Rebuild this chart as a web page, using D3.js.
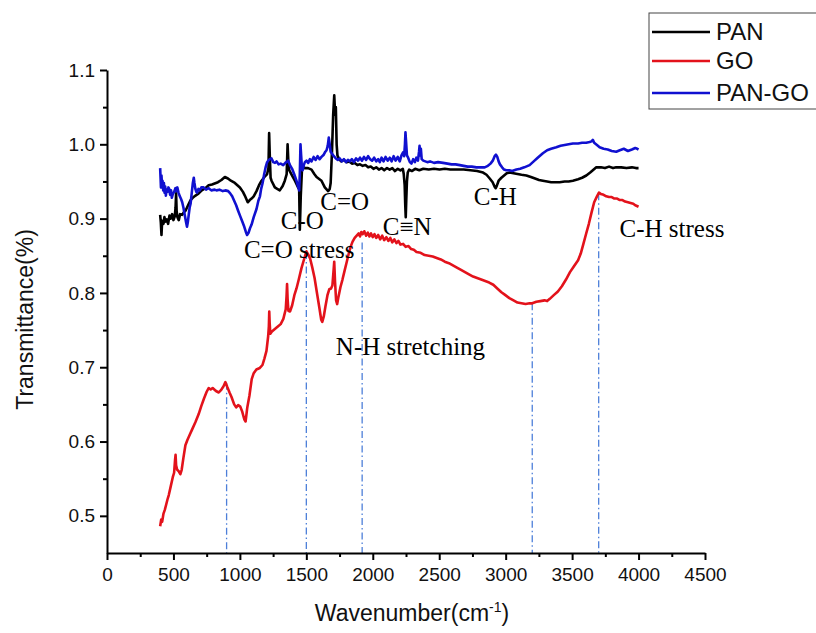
<!DOCTYPE html>
<meta charset="utf-8">
<svg width="816" height="633"></svg>
<script src="https://d3js.org/d3.v7.min.js"></script>

<style>
    body { margin: 0; background: #fff; }
    svg { display: block; background: #fff; }

    .axis path, .axis line {
        stroke: #000;
        stroke-width: 2px;
    }
    .axis text {
        font-family: "Liberation Sans", Arial, sans-serif;
        font-size: 19px;
        fill: #111;
    }
    .curve {
        fill: none;
        stroke-width: 2.6px;
        stroke-linejoin: round;
    }
    .marker {
        stroke: #4d7fd9;
        stroke-width: 1.3px;
        stroke-dasharray: 7,3,1.5,3;
    }
    .note {
        font-family: "Liberation Serif", "Times New Roman", serif;
        font-size: 25px;
        fill: #000;
    }
    .title {
        font-family: "Liberation Sans", Arial, sans-serif;
        font-size: 23px;
        fill: #111;
    }
</style>

<script>

    // ---- data (wavenumber cm-1, transmittance) ----
    var pan = [
        [400,0.905],[405,0.895],[410,0.878],[415,0.897],[425,0.893],[432,0.902],[440,0.896],[450,0.899],
        [460,0.893],[470,0.904],[480,0.900],[490,0.906],[500,0.898],[510,0.903],[516,0.915],[520,0.934],
        [524,0.910],[530,0.902],[540,0.898],[550,0.906],[565,0.905],[580,0.909],[592,0.911],[610,0.918],
        [629,0.925],[645,0.928],[666,0.931],[690,0.934],[713,0.938],[740,0.941],[765,0.945],[790,0.946],
        [835,0.949],[861,0.952],[887,0.956],[910,0.954],[932,0.951],[962,0.948],[1000,0.942],[1023,0.936],
        [1037,0.931],[1059,0.922],[1074,0.925],[1088,0.927],[1104,0.930],[1125,0.937],[1144,0.945],
        [1163,0.951],[1185,0.956],[1205,0.960],[1215,0.968],[1220,1.015],[1225,0.985],[1231,0.955],
        [1238,0.951],[1263,0.942],[1281,0.940],[1300,0.938],[1322,0.944],[1338,0.951],[1352,0.960],
        [1359,1.000],[1365,0.975],[1372,0.965],[1393,0.958],[1414,0.951],[1438,0.942],[1446,0.940],
        [1451,0.885],[1458,0.930],[1467,0.965],[1474,0.970],[1489,0.968],[1513,0.968],[1539,0.966],
        [1560,0.960],[1577,0.956],[1614,0.951],[1639,0.942],[1664,0.937],[1676,0.940],[1683,0.948],
        [1693,0.990],[1702,1.040],[1710,1.066],[1717,1.040],[1722,1.050],[1728,1.000],[1734,0.985],
        [1747,0.980],[1762,0.977],[1783,0.979],[1803,0.976],[1823,0.977],[1843,0.974],[1864,0.975],
        [1884,0.972],[1904,0.973],[1924,0.971],[1945,0.972],[1965,0.969],[1985,0.970],[2005,0.967],
        [2026,0.969],[2046,0.966],[2066,0.968],[2086,0.965],[2107,0.968],[2127,0.966],[2147,0.968],
        [2167,0.964],[2188,0.967],[2208,0.965],[2226,0.967],[2233,0.960],[2240,0.945],[2244,0.920],
        [2248,0.902],[2252,0.925],[2257,0.950],[2263,0.962],[2274,0.966],[2294,0.964],[2319,0.967],
        [2350,0.965],[2380,0.967],[2421,0.966],[2461,0.967],[2502,0.966],[2542,0.967],[2583,0.966],
        [2633,0.966],[2684,0.966],[2735,0.965],[2785,0.964],[2830,0.962],[2856,0.959],[2880,0.954],
        [2902,0.949],[2917,0.943],[2925,0.941],[2933,0.944],[2947,0.951],[2968,0.955],[2988,0.958],
        [3008,0.961],[3030,0.962],[3059,0.961],[3089,0.960],[3119,0.959],[3156,0.958],[3190,0.956],
        [3221,0.954],[3251,0.952],[3280,0.951],[3312,0.950],[3342,0.949],[3373,0.949],[3406,0.949],
        [3444,0.950],[3474,0.950],[3506,0.951],[3545,0.953],[3575,0.955],[3607,0.958],[3636,0.962],
        [3656,0.965],[3682,0.969],[3717,0.969],[3747,0.968],[3778,0.970],[3808,0.968],[3832,0.969],
        [3869,0.969],[3909,0.968],[3950,0.969],[3980,0.968],[4000,0.968]
    ];

    var go = [
        [400,0.486],[408,0.495],[415,0.492],[425,0.503],[435,0.508],[445,0.515],[455,0.522],[465,0.528],
        [480,0.540],[495,0.552],[505,0.558],[512,0.575],[516,0.582],[520,0.568],[528,0.562],[540,0.560],
        [552,0.556],[562,0.562],[575,0.578],[590,0.595],[605,0.602],[620,0.608],[640,0.616],[665,0.626],
        [690,0.637],[710,0.648],[730,0.658],[750,0.667],[765,0.672],[780,0.670],[795,0.672],[820,0.668],
        [841,0.666],[861,0.670],[876,0.674],[891,0.680],[906,0.673],[922,0.666],[937,0.660],[957,0.650],
        [972,0.646],[987,0.649],[1003,0.647],[1018,0.640],[1033,0.630],[1043,0.627],[1055,0.645],
        [1072,0.662],[1089,0.684],[1104,0.692],[1124,0.697],[1150,0.699],[1170,0.703],[1185,0.712],
        [1200,0.722],[1213,0.742],[1218,0.755],[1221,0.775],[1224,0.760],[1229,0.745],[1241,0.748],
        [1261,0.751],[1281,0.754],[1307,0.758],[1327,0.765],[1345,0.778],[1351,0.795],[1355,0.812],
        [1359,0.792],[1365,0.776],[1377,0.775],[1393,0.783],[1410,0.797],[1426,0.806],[1443,0.818],
        [1463,0.833],[1484,0.846],[1501,0.856],[1514,0.852],[1529,0.846],[1545,0.834],[1562,0.820],
        [1580,0.800],[1598,0.780],[1612,0.764],[1620,0.761],[1631,0.768],[1644,0.782],[1659,0.797],
        [1673,0.805],[1686,0.806],[1696,0.810],[1704,0.828],[1710,0.842],[1716,0.815],[1724,0.790],
        [1732,0.785],[1742,0.795],[1757,0.808],[1772,0.818],[1788,0.830],[1803,0.841],[1818,0.852],
        [1833,0.862],[1848,0.869],[1864,0.874],[1879,0.877],[1894,0.880],[1904,0.876],[1914,0.882],
        [1924,0.879],[1936,0.883],[1950,0.877],[1963,0.881],[1975,0.876],[1987,0.880],[2000,0.875],
        [2013,0.879],[2026,0.874],[2041,0.878],[2056,0.872],[2071,0.877],[2086,0.871],[2102,0.875],
        [2117,0.870],[2132,0.874],[2147,0.868],[2162,0.872],[2178,0.867],[2193,0.870],[2208,0.865],
        [2228,0.866],[2248,0.862],[2269,0.863],[2289,0.859],[2309,0.858],[2329,0.855],[2360,0.854],
        [2390,0.851],[2421,0.850],[2451,0.849],[2481,0.847],[2512,0.845],[2542,0.842],[2573,0.840],
        [2603,0.837],[2633,0.834],[2664,0.831],[2694,0.828],[2724,0.825],[2755,0.822],[2785,0.820],
        [2816,0.818],[2846,0.816],[2876,0.814],[2907,0.811],[2937,0.806],[2968,0.801],[2998,0.797],
        [3028,0.793],[3059,0.790],[3089,0.787],[3119,0.786],[3150,0.785],[3180,0.786],[3200,0.786],
        [3231,0.788],[3261,0.789],[3292,0.790],[3312,0.789],[3332,0.792],[3362,0.797],[3393,0.802],
        [3423,0.809],[3454,0.818],[3484,0.828],[3514,0.836],[3545,0.844],[3565,0.853],[3585,0.866],
        [3606,0.880],[3626,0.893],[3646,0.908],[3666,0.922],[3687,0.930],[3702,0.935],[3717,0.933],
        [3737,0.932],[3757,0.930],[3778,0.929],[3798,0.929],[3818,0.927],[3839,0.927],[3859,0.925],
        [3879,0.925],[3899,0.923],[3920,0.922],[3940,0.921],[3960,0.920],[3975,0.918],[3988,0.917],
        [4000,0.916]
    ];

    var panGo = [
        [400,0.968],[403,0.955],[406,0.942],[410,0.958],[414,0.945],[418,0.951],[423,0.938],[428,0.948],
        [433,0.935],[438,0.943],[443,0.931],[448,0.939],[455,0.936],[462,0.942],[468,0.940],[475,0.932],
        [482,0.938],[488,0.928],[495,0.933],[505,0.936],[515,0.941],[522,0.937],[529,0.942],[538,0.935],
        [548,0.930],[558,0.926],[566,0.922],[575,0.915],[585,0.905],[595,0.895],[602,0.889],[608,0.895],
        [615,0.905],[622,0.915],[629,0.920],[638,0.935],[646,0.948],[653,0.955],[658,0.948],[665,0.940],
        [672,0.936],[678,0.935],[688,0.940],[698,0.938],[710,0.942],[727,0.942],[745,0.939],[765,0.941],
        [785,0.938],[810,0.939],[824,0.938],[846,0.939],[871,0.937],[891,0.938],[912,0.937],[927,0.934],
        [942,0.930],[957,0.924],[972,0.918],[986,0.911],[1003,0.903],[1018,0.896],[1033,0.889],
        [1045,0.882],[1054,0.878],[1065,0.881],[1076,0.887],[1088,0.892],[1104,0.902],[1125,0.913],
        [1139,0.924],[1151,0.930],[1160,0.940],[1171,0.948],[1183,0.960],[1195,0.970],[1205,0.976],
        [1213,0.978],[1225,0.980],[1238,0.981],[1251,0.976],[1264,0.975],[1276,0.977],[1291,0.973],
        [1307,0.974],[1326,0.972],[1342,0.975],[1363,0.978],[1377,0.972],[1393,0.967],[1408,0.960],
        [1426,0.951],[1438,0.943],[1446,0.938],[1451,0.960],[1456,1.000],[1461,0.985],[1467,0.968],
        [1472,0.965],[1481,0.972],[1489,0.976],[1501,0.978],[1514,0.975],[1527,0.980],[1539,0.977],
        [1555,0.983],[1570,0.979],[1585,0.984],[1600,0.980],[1614,0.983],[1631,0.986],[1643,0.990],
        [1652,0.992],[1661,0.998],[1669,1.009],[1676,1.000],[1683,0.990],[1691,0.988],[1707,0.984],
        [1722,0.981],[1737,0.979],[1752,0.981],[1767,0.977],[1783,0.980],[1798,0.976],[1813,0.979],
        [1828,0.977],[1843,0.980],[1858,0.976],[1874,0.981],[1889,0.978],[1904,0.982],[1919,0.978],
        [1934,0.983],[1950,0.979],[1965,0.984],[1980,0.980],[1995,0.978],[2010,0.982],[2026,0.977],
        [2041,0.980],[2053,0.976],[2066,0.982],[2081,0.977],[2096,0.983],[2112,0.978],[2128,0.982],
        [2142,0.977],[2157,0.984],[2172,0.978],[2188,0.983],[2203,0.977],[2216,0.985],[2228,0.989],
        [2236,0.984],[2242,1.000],[2246,1.016],[2250,1.005],[2257,0.985],[2266,0.982],[2279,0.976],
        [2291,0.974],[2304,0.980],[2317,0.976],[2328,0.982],[2340,0.978],[2348,0.990],[2352,0.998],
        [2356,0.985],[2362,0.994],[2368,0.980],[2380,0.978],[2395,0.977],[2410,0.976],[2431,0.977],
        [2461,0.975],[2491,0.976],[2529,0.975],[2562,0.974],[2593,0.973],[2623,0.973],[2655,0.972],
        [2684,0.971],[2714,0.970],[2745,0.970],[2780,0.969],[2816,0.969],[2842,0.969],[2866,0.971],
        [2886,0.974],[2903,0.978],[2917,0.984],[2927,0.986],[2937,0.983],[2947,0.977],[2957,0.973],
        [2973,0.969],[2988,0.966],[3005,0.965],[3028,0.965],[3049,0.964],[3081,0.966],[3109,0.967],
        [3140,0.969],[3180,0.972],[3211,0.977],[3241,0.982],[3280,0.988],[3312,0.992],[3342,0.994],
        [3381,0.996],[3413,0.998],[3444,0.999],[3474,1.000],[3506,1.001],[3545,1.001],[3575,1.002],
        [3606,1.002],[3632,1.003],[3646,1.004],[3656,1.006],[3666,1.002],[3687,0.999],[3707,0.996],
        [3737,0.994],[3768,0.993],[3798,0.991],[3832,0.990],[3859,0.992],[3889,0.994],[3920,0.991],
        [3950,0.993],[3975,0.995],[3990,0.994],[4000,0.993]
    ];

    var seriesNames = ["PAN", "GO", "PAN-GO"];
    var seriesColors = ["#000000", "#e3121b", "#1010d0"];

    // dash-dot guide lines: wavenumber and the GO value they rise to
    var guideWn = [900, 1500, 1920, 3200, 3700];
    var guideTop = [0.679, 0.855, 0.868, 0.786, 0.934];

    // band labels: text, wavenumber of left edge, transmittance of baseline
    var noteText = ["C=O", "C-O", "C=O stress", "C\u2261N", "C-H", "C-H stress", "N-H stretching"];
    var noteWn   = [1605, 1308, 1030, 2075, 2759, 3857, 1722];
    var noteT    = [0.912, 0.886, 0.847, 0.878, 0.918, 0.875, 0.716];

    var xTicks = d3.range(0, 4501, 500);
    var xMinor = d3.range(250, 4500, 500);
    var yTicks = [0.5, 0.6, 0.7, 0.8, 0.9, 1.0, 1.1];
    var yMinor = [0.55, 0.65, 0.75, 0.85, 0.95, 1.05];

    var svg = d3.select("svg"),
        margin = { top: 70, right: 111, bottom: 80, left: 107 },
        width = +svg.attr("width") - margin.left - margin.right,
        height = +svg.attr("height") - margin.top - margin.bottom;

    var x = d3.scaleLinear().domain([0, 4500]).range([0, width]);
    var y = d3.scaleLinear().domain([0.45, 1.1]).range([height, 0]);

    var g = svg.append("g")
        .attr("transform", "translate(" + margin.left + "," + margin.top + ")");

    // guide lines under the curves
    g.selectAll(".marker")
        .data(guideWn)
        .enter().append("line")
        .attr("class", "marker")
        .attr("x1", function (d) { return x(d); })
        .attr("x2", function (d) { return x(d); })
        .attr("y1", function (d, i) { return y(guideTop[i]); })
        .attr("y2", height);

    var line = d3.line()
        .x(function (d) { return x(d[0]); })
        .y(function (d) { return y(d[1]); });

    [pan, panGo, go].forEach(function (s) {
        var idx = s === pan ? 0 : (s === go ? 1 : 2);
        g.append("path")
            .datum(s)
            .attr("class", "curve")
            .attr("stroke", seriesColors[idx])
            .attr("d", line);
    });

    // axes
    g.append("g")
        .attr("class", "axis axis--x")
        .attr("transform", "translate(0," + height + ")")
        .call(d3.axisBottom(x).tickValues(xTicks).tickSize(7).tickSizeOuter(0).tickPadding(8).tickFormat(d3.format("d")));

    g.append("g")
        .attr("class", "axis axis--x-minor")
        .attr("transform", "translate(0," + height + ")")
        .call(d3.axisBottom(x).tickValues(xMinor).tickSize(4).tickFormat(""))
        .select(".domain").remove();

    g.append("g")
        .attr("class", "axis axis--y")
        .call(d3.axisLeft(y).tickValues(yTicks).tickSize(7).tickSizeOuter(0).tickPadding(5).tickFormat(d3.format(".1f")));

    g.append("g")
        .attr("class", "axis axis--y-minor")
        .call(d3.axisLeft(y).tickValues(yMinor).tickSize(4).tickFormat(""))
        .select(".domain").remove();

    // band labels
    g.selectAll(".note")
        .data(noteText)
        .enter().append("text")
        .attr("class", "note")
        .attr("x", function (d, i) { return x(noteWn[i]); })
        .attr("y", function (d, i) { return y(noteT[i]); })
        .text(function (d) { return d; });

    // axis titles
    svg.append("text")
        .attr("class", "title")
        .attr("text-anchor", "middle")
        .attr("transform", "translate(33," + (margin.top + height / 2 + 8) + ") rotate(-90)")
        .text("Transmittance(%)");

    var xt = svg.append("text")
        .attr("class", "title")
        .attr("text-anchor", "middle")
        .attr("x", margin.left + width / 2 + 6)
        .attr("y", 621);
    xt.append("tspan").text("Wavenumber(cm");
    xt.append("tspan").attr("dy", -9).style("font-size", "14px").text("-1");
    xt.append("tspan").attr("dy", 9).text(")");

    // legend
    var legend = svg.append("g").attr("transform", "translate(649,13)");
    legend.append("rect")
        .attr("width", 200).attr("height", 96)
        .attr("fill", "#fff").attr("stroke", "#444").attr("stroke-width", 1);
    var items = legend.selectAll(".item")
        .data(seriesNames)
        .enter().append("g")
        .attr("transform", function (d, i) { return "translate(0," + [19, 48, 80][i] + ")"; });
    items.append("line")
        .attr("x1", 3).attr("x2", 61)
        .attr("stroke", function (d, i) { return seriesColors[i]; })
        .attr("stroke-width", 2.5);
    items.append("text")
        .attr("x", 67).attr("y", 8)
        .style("font-family", "'Liberation Sans', Arial, sans-serif")
        .style("font-size", "24px")
        .attr("fill", "#111")
        .text(function (d) { return d; });

</script>
